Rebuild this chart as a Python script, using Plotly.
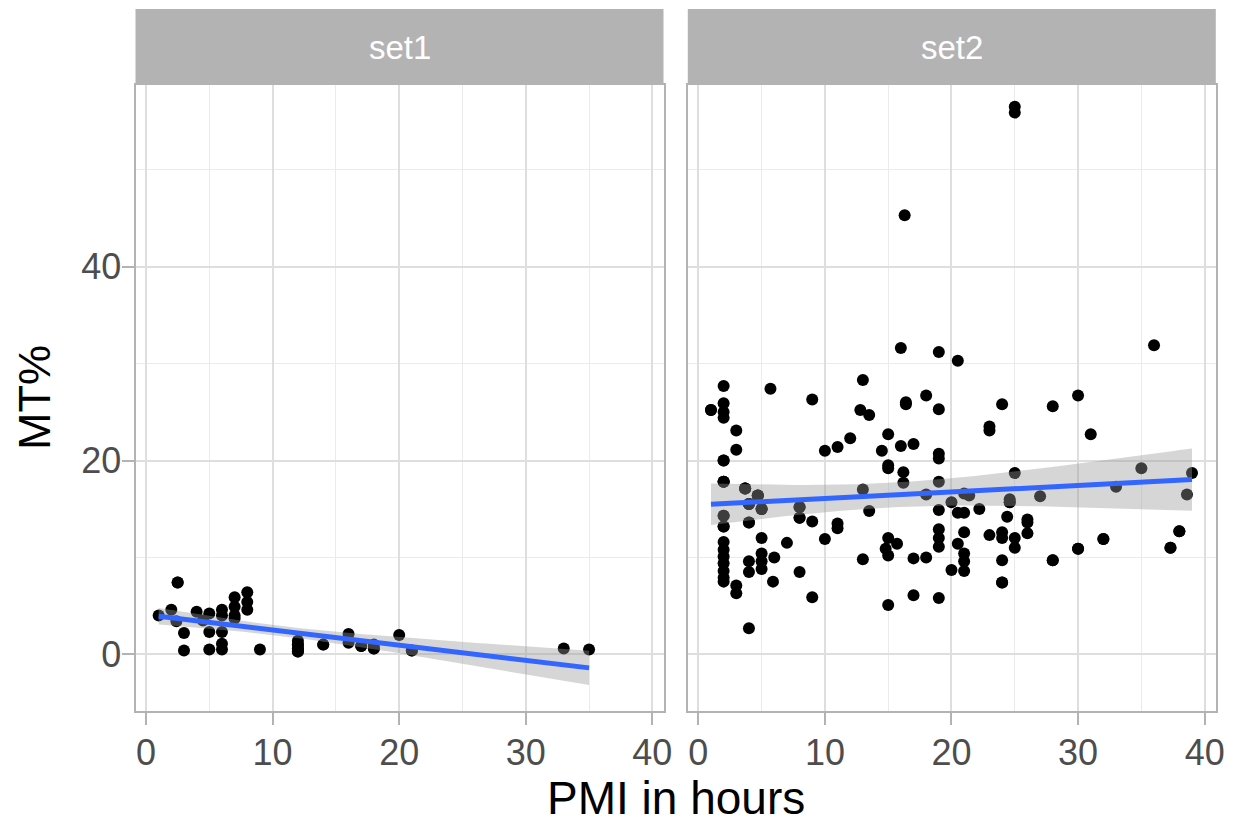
import numpy as np
import plotly.graph_objects as go

# ---- data: PMI (hours) vs MT% for two sets (repeated values overlap on the plot) ----
set1_pmi = [1, 2, 2.5, 2.4, 3, 3, 4, 4.5, 5, 5, 5, 6, 6, 6, 6, 6,
            7, 7, 7, 7, 8, 8, 8, 9, 12, 12, 12, 12, 14, 16, 16, 17,
            18, 18, 20, 21, 33, 35,
            12, 12, 12, 18, 21, 17, 14, 2.5]
set1_mt = [4.0, 4.6, 7.4, 3.4, 2.2, 0.4, 4.4, 3.5, 4.2, 2.3, 0.5, 4.6, 4.0, 2.3, 1.1, 0.5,
           5.9, 4.9, 4.0, 3.7, 6.4, 5.4, 4.6, 0.5, 1.4, 1.0, 0.6, 0.3, 1.0, 2.1, 1.2, 0.85,
           1.0, 0.6, 2.0, 0.4, 0.6, 0.5,
           0.3, 0.6, 1.0, 0.6, 0.4, 0.85, 1.0, 7.4]

set2_pmi = [1,
            2, 2, 2, 2, 2, 2, 2, 2, 2, 2, 2, 2, 2, 2, 2,
            3, 3, 3, 3, 3.7, 4.7,
            4, 4, 4, 4, 4,
            5, 5, 5, 5, 5,
            5.7, 6, 5.9, 7,
            8, 8, 8, 9, 9, 9,
            10, 10, 11, 11, 11, 12, 12.8,
            13, 13, 13, 13.5, 13.5, 14.5,
            15, 15, 15, 15, 15, 15, 14.8, 15.7,
            16, 16, 16.2, 16.2, 16.3, 16.4, 16.4,
            17, 17, 17, 18, 18, 18,
            19, 19, 19, 19, 19, 19, 19, 19, 19, 19,
            20, 20, 20.5, 20.5, 20.5,
            21, 21, 21, 21, 21, 21, 21.4, 22.2,
            23, 23, 23, 24, 24, 24, 24, 24, 24.4, 24.6, 24.6,
            25, 25, 25, 25, 25,
            26, 26, 26, 27, 28, 28, 30, 30, 31, 32, 33, 35, 36,
            37.3, 38, 38.6, 39,
            37.3, 38, 32, 30, 28, 24, 1, 24.6, 2,
            2, 2, 2, 3.7, 4.7, 4, 5, 8, 8, 4, 3.7, 4.7, 2, 4, 5]
set2_mt = [25.2,
           27.7, 25.9, 25.0, 24.4, 20.0, 17.8, 14.3, 13.2, 11.6, 10.8, 10.1, 9.4, 8.6, 7.9, 7.5,
           23.1, 21.1, 7.1, 6.3, 17.1, 16.4,
           15.5, 13.6, 9.6, 8.5, 2.7,
           15.0, 12.0, 10.4, 9.6, 8.8,
           27.4, 10.0, 7.5, 11.5,
           15.2, 14.1, 8.5, 26.3, 13.7, 5.9,
           21.0, 11.9, 21.4, 13.5, 13.0, 22.3, 25.2,
           28.3, 17.0, 9.8, 24.7, 14.8, 21.0,
           22.7, 19.5, 19.2, 12.0, 10.2, 5.1, 10.9, 11.4,
           31.6, 21.5, 18.8, 17.7, 45.3, 26.0, 25.8,
           21.7, 9.9, 6.1, 26.7, 16.5, 10.0,
           31.2, 25.3, 20.7, 20.2, 17.8, 14.9, 12.9, 12.0, 11.1, 5.8,
           15.7, 8.7, 30.3, 14.6, 11.4,
           16.6, 14.6, 12.6, 10.4, 9.6, 8.6, 16.4, 15.0,
           23.5, 23.1, 12.3, 25.8, 12.6, 12.0, 9.7, 7.4, 14.2, 16.0, 15.7,
           18.7, 12.0, 11.0, 56.5, 55.9,
           13.9, 13.6, 12.5, 16.3, 25.6, 9.7, 26.7, 10.9, 22.7, 11.9, 17.3, 19.2, 31.9,
           11.0, 12.7, 16.5, 18.7,
           11.0, 12.7, 11.9, 10.9, 9.7, 7.4, 25.2, 15.7, 17.8,
           14.3, 13.2, 17.8, 17.1, 16.4, 15.5, 15.0, 15.2, 14.1, 13.6, 17.1, 16.4, 20.0, 15.5, 15.0]

panel_names = ["set1", "set2"]
x_ticks = [0, 10, 20, 30, 40]
y_ticks = [0, 20, 40]

FONT = "Liberation Sans, Arial, Helvetica, sans-serif"
GRID_MAJOR = "#DEDEDE"
GRID_MINOR = "#EBEBEB"
FRAME = "#B3B3B3"


def t_quantile_975(df):
    # Cornish-Fisher expansion of the Student t quantile around the normal one
    z = 1.959963985
    g1 = (z ** 3 + z) / 4
    g2 = (5 * z ** 5 + 16 * z ** 3 + 3 * z) / 96
    g3 = (3 * z ** 7 + 19 * z ** 5 + 17 * z ** 3 - 15 * z) / 384
    return z + g1 / df + g2 / df ** 2 + g3 / df ** 3


def lm_band(x, y, n_grid=80):
    # least-squares line with its 95% confidence band (as geom_smooth(method = "lm"))
    x = np.asarray(x, float)
    y = np.asarray(y, float)
    n = len(x)
    slope, intercept = np.polyfit(x, y, 1)
    resid = y - (intercept + slope * x)
    s = np.sqrt(np.sum(resid ** 2) / (n - 2))
    xbar = x.mean()
    sxx = np.sum((x - xbar) ** 2)
    grid = np.linspace(x.min(), x.max(), n_grid)
    fit = intercept + slope * grid
    se = s * np.sqrt(1.0 / n + (grid - xbar) ** 2 / sxx)
    t = t_quantile_975(n - 2)
    return grid, fit, fit - t * se, fit + t * se


fig = go.Figure()

panels = [(set1_pmi, set1_mt, "x", "y"), (set2_pmi, set2_mt, "x2", "y2")]
for xs, ys, xa, ya in panels:
    fig.add_trace(go.Scatter(
        x=xs, y=ys, mode="markers", xaxis=xa, yaxis=ya,
        marker=dict(color="black", size=12, line=dict(width=0)),
        showlegend=False, hoverinfo="x+y"))
    grid, fit, lo, hi = lm_band(xs, ys)
    fig.add_trace(go.Scatter(
        x=np.concatenate([grid, grid[::-1]]),
        y=np.concatenate([hi, lo[::-1]]),
        mode="lines", fill="toself", fillcolor="rgba(153,153,153,0.4)",
        line=dict(width=0), xaxis=xa, yaxis=ya,
        showlegend=False, hoverinfo="skip"))
    fig.add_trace(go.Scatter(
        x=grid, y=fit, mode="lines", xaxis=xa, yaxis=ya,
        line=dict(color="#3366FF", width=5),
        showlegend=False, hoverinfo="skip"))

W, H = 1237, 825
px_x = lambda p: p / W
px_y = lambda p: 1 - p / H

panel_x = [(135.5, 663.5), (687.8, 1215.8)]
plot_top, plot_bottom = 85, 711
strip_top = 9

x_range = [-0.83, 40.88]
y_range = [-5.85, 58.75]

common_x = dict(
    range=x_range, tickvals=x_ticks, ticktext=[str(v) for v in x_ticks],
    showgrid=True, gridcolor=GRID_MAJOR, gridwidth=2,
    minor=dict(dtick=5, tick0=0, showgrid=True, gridcolor=GRID_MINOR, gridwidth=1),
    zeroline=False, showline=True, mirror=True, linecolor=FRAME, linewidth=2,
    ticks="outside", ticklen=12, tickwidth=2, tickcolor=FRAME,
    ticklabelstandoff=-3,
    tickfont=dict(family=FONT, size=36, color="#4D4D4D"),
    automargin=False, fixedrange=True,
)
common_y = dict(
    range=y_range, tickvals=y_ticks, ticktext=[str(v) for v in y_ticks],
    showgrid=True, gridcolor=GRID_MAJOR, gridwidth=2,
    minor=dict(dtick=10, tick0=0, showgrid=True, gridcolor=GRID_MINOR, gridwidth=1),
    zeroline=False, showline=True, mirror=True, linecolor=FRAME, linewidth=2,
    tickfont=dict(family=FONT, size=36, color="#4D4D4D"),
    automargin=False, fixedrange=True,
)

ydom = [px_y(plot_bottom), px_y(plot_top)]
fig.update_layout(
    width=W, height=H, autosize=False,
    margin=dict(l=0, r=0, t=0, b=0, pad=0),
    paper_bgcolor="white", plot_bgcolor="white",
    font=dict(family=FONT),
    xaxis=dict(domain=[px_x(panel_x[0][0]), px_x(panel_x[0][1])], anchor="y", **common_x),
    xaxis2=dict(domain=[px_x(panel_x[1][0]), px_x(panel_x[1][1])], anchor="y2", **common_x),
    yaxis=dict(domain=ydom, anchor="x", ticks="outside", ticklen=12, tickwidth=2,
               tickcolor=FRAME, ticklabelstandoff=-7, **common_y),
    yaxis2=dict(domain=ydom, anchor="x2", showticklabels=False, ticks="", **common_y),
)

# facet strips
for (x0, x1), name in zip(panel_x, panel_names):
    fig.add_shape(type="rect", xref="paper", yref="paper",
                  x0=px_x(x0), x1=px_x(x1), y0=px_y(plot_top), y1=px_y(strip_top),
                  fillcolor="#B3B3B3", line=dict(width=0), layer="above")
    fig.add_annotation(text=name, xref="paper", yref="paper",
                       x=px_x((x0 + x1) / 2), y=px_y((strip_top + plot_top) / 2),
                       showarrow=False, xanchor="center", yanchor="middle",
                       font=dict(family=FONT, size=33, color="white"))

# axis titles
fig.add_annotation(text="PMI in hours", xref="paper", yref="paper",
                   x=px_x((panel_x[0][0] + panel_x[1][1]) / 2), y=px_y(798),
                   showarrow=False, xanchor="center", yanchor="middle",
                   font=dict(family=FONT, size=46, color="black"))
fig.add_annotation(text="MT%", xref="paper", yref="paper",
                   x=px_x(34), y=px_y((plot_top + plot_bottom) / 2),
                   showarrow=False, xanchor="center", yanchor="middle", textangle=-90,
                   font=dict(family=FONT, size=45, color="black"))

fig.write_html("out.html")
